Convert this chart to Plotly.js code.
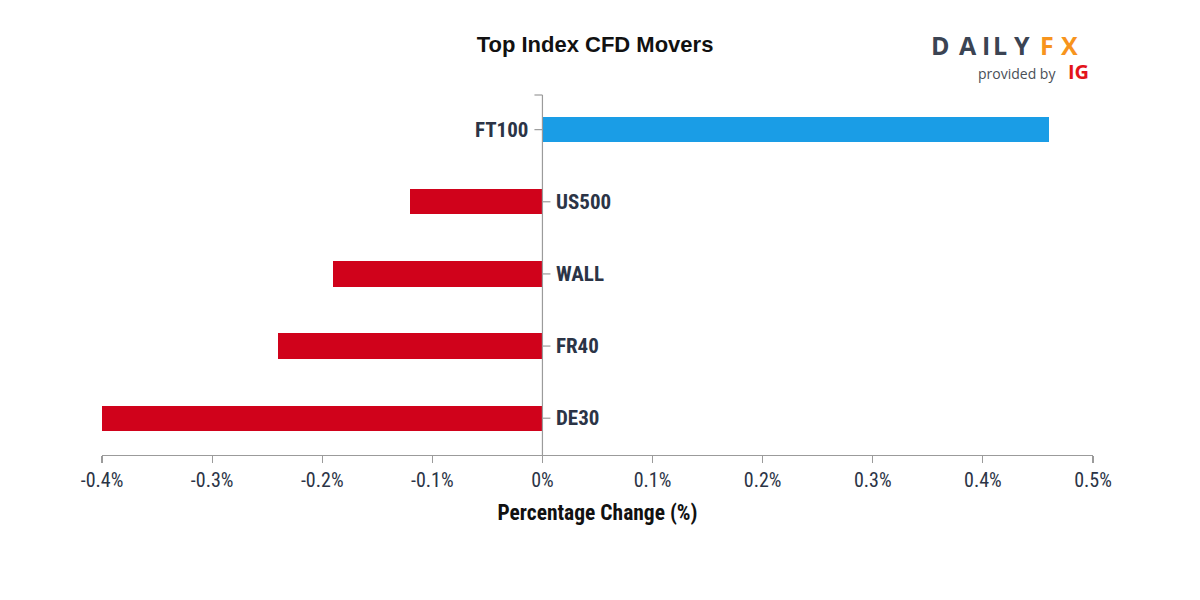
<!DOCTYPE html>
<html>
<head>
<meta charset="utf-8">
<script src="https://cdn.plot.ly/plotly-3.0.1.min.js"></script>
<style>
  html, body { margin: 0; padding: 0; background: #fff; }
  #chart { width: 1200px; height: 600px; }
</style>
</head>
<body>
<div id="chart"></div>
<script>
// Daily percentage change of index CFDs
const markets = ['FT100', 'US500', 'WALL', 'FR40', 'DE30'];
const changes = [0.46, -0.12, -0.19, -0.24, -0.40];

const xTickVals = [-0.4, -0.3, -0.2, -0.1, 0, 0.1, 0.2, 0.3, 0.4, 0.5];
const xTickText = ['-0.4%', '-0.3%', '-0.2%', '-0.1%', '0%', '0.1%', '0.2%', '0.3%', '0.4%', '0.5%'];

const UP = '#1a9de6';
const DOWN = '#d0021b';
const INK = '#2b3446';
const AXIS = '#9b9b9b';
const COND = '"Roboto Condensed", "Liberation Sans Narrow", "DejaVu Sans Condensed", sans-serif';
const LOGO = '"Open Sans", "DejaVu Sans", sans-serif';

const yIdx = markets.map((_, i) => i);

const trace = {
  type: 'bar',
  orientation: 'h',
  x: changes,
  y: yIdx,
  width: 0.35,
  marker: { color: changes.map(v => v >= 0 ? UP : DOWN) },
  hoverinfo: 'skip'
};

// Category labels sit beside the zero line, opposite their bar
const labelAnnotations = markets.map((m, i) => ({
  x: 0, y: i, xref: 'x', yref: 'y',
  text: '<b>' + m + '</b>',
  showarrow: false,
  xanchor: changes[i] >= 0 ? 'right' : 'left',
  xshift: changes[i] >= 0 ? -12 : 12,
  font: { family: COND, size: 21, color: INK }
}));

// Small tick marks at each category on the zero line
const tickShapes = markets.map((m, i) => ({
  type: 'line', xref: 'x', yref: 'y',
  xsizemode: 'pixel', xanchor: 0,
  x0: changes[i] >= 0 ? -8 : 0, x1: changes[i] >= 0 ? 0 : 8,
  y0: i, y1: i,
  line: { color: AXIS, width: 1.2 }
}));

const shapes = tickShapes.concat([
  // vertical axis along zero
  { type: 'line', xref: 'x', yref: 'paper', x0: 0, x1: 0, y0: 0, y1: 1,
    line: { color: AXIS, width: 1.2 } },
  // outer tick at the top of the vertical axis
  { type: 'line', xref: 'x', yref: 'paper', xsizemode: 'pixel', xanchor: 0,
    x0: -8, x1: 0, y0: 1, y1: 1, line: { color: AXIS, width: 1.2 } }
]);

// DAILYFX wordmark, one letter per annotation for the wide tracking
const logoLetters = [
  { t: 'D', x: 940, c: '#3b4453' },
  { t: 'A', x: 968, c: '#3b4453' },
  { t: 'I', x: 986, c: '#3b4453' },
  { t: 'L', x: 1000, c: '#3b4453' },
  { t: 'Y', x: 1022, c: '#3b4453' },
  { t: 'F', x: 1047, c: '#f7941d' },
  { t: 'X', x: 1069, c: '#f7941d' }
];
const px = v => (v - 102) / 991;
const py = v => 1 + (95 - v) / 360;
const logoAnnotations = logoLetters.map(l => ({
  xref: 'paper', yref: 'paper',
  x: px(l.x), y: py(45),
  text: '<b>' + l.t + '</b>', showarrow: false,
  xanchor: 'center', yanchor: 'middle',
  font: { family: LOGO, size: 25, color: l.c }
}));
logoAnnotations.push({
  xref: 'paper', yref: 'paper',
  x: px(1058), y: py(73),
  text: 'provided by', showarrow: false, xanchor: 'right', yanchor: 'middle',
  font: { family: LOGO, size: 14, color: '#4a4f57' }
});
logoAnnotations.push({
  xref: 'paper', yref: 'paper',
  x: px(1066), y: py(71),
  text: '<b>IG</b>', showarrow: false, xanchor: 'left', yanchor: 'middle',
  font: { family: LOGO, size: 20, color: '#e3141b' }
});

const layout = {
  width: 1200, height: 600,
  paper_bgcolor: '#ffffff', plot_bgcolor: '#ffffff',
  margin: { l: 102, r: 107, t: 95, b: 145 },
  showlegend: false,
  bargap: 0,
  title: {
    text: '<b>Top Index CFD Movers</b>',
    x: 597 / 1200, xanchor: 'center', xref: 'paper',
    y: 1 - 44 / 600, yanchor: 'middle',
    font: { family: '"Liberation Sans", Arial, sans-serif', size: 22, color: '#111111' }
  },
  xaxis: {
    range: [-0.4, 0.5],
    tickvals: xTickVals, ticktext: xTickText,
    showgrid: false, zeroline: false,
    showline: true, linecolor: AXIS, linewidth: 1.2,
    ticks: 'outside', ticklen: 7, tickcolor: AXIS, tickwidth: 1.2,
    tickfont: { family: COND, size: 20, color: INK },
    title: {
      text: '<b>Percentage Change (%)</b>',
      font: { family: COND, size: 21.5, color: '#111111' },
      standoff: 13
    },
    fixedrange: true
  },
  yaxis: {
    range: [4.51, -0.48],
    showticklabels: false, showgrid: false, zeroline: false,
    showline: false, ticks: '',
    fixedrange: true
  },
  shapes: shapes,
  annotations: labelAnnotations.concat(logoAnnotations)
};

Plotly.newPlot('chart', [trace], layout, { displayModeBar: false, staticPlot: true });
</script>
</body>
</html>
